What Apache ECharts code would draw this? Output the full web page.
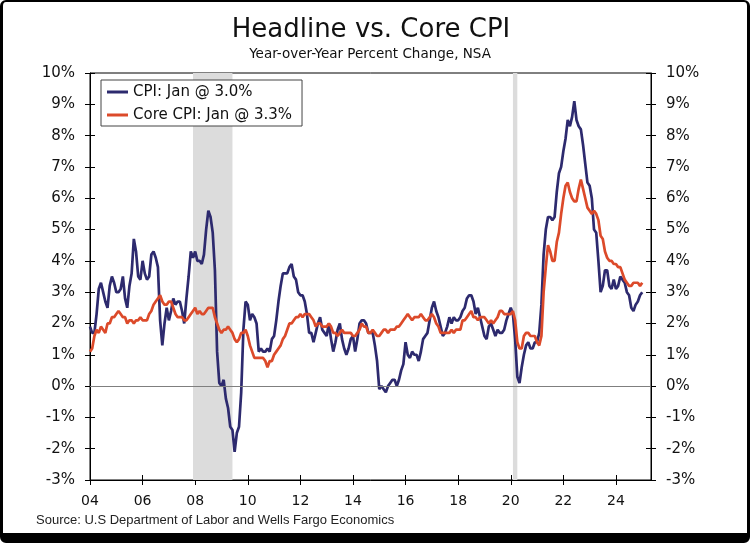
<!DOCTYPE html>
<html>
<head>
<meta charset="utf-8">
<script src="https://cdn.jsdelivr.net/npm/echarts@6/dist/echarts.min.js"></script>
<style>
html,body{margin:0;padding:0;background:#fff;}
#wrap{position:relative;width:751px;height:543px;overflow:hidden;}
#chart{position:absolute;left:0;top:0;width:751px;height:543px;}
#frame{position:absolute;left:0;top:0;width:750px;height:543px;box-sizing:border-box;
  border-top:2px solid #000;border-left:3px solid #000;border-right:3px solid #000;border-bottom:10px solid #000;
  border-radius:6px;pointer-events:none;}
</style>
</head>
<body>
<div id="wrap"><div id="chart"></div><div id="frame"></div></div>
<script>
// Monthly data, Jan 2004 .. Jan 2025 (YoY % change, NSA)
const startYear = 2004;
const cpi = [
  1.9,1.7,1.7,2.3,3.1,3.3,3.0,2.7,2.5,3.2,3.5,3.3,
  3.0,3.0,3.1,3.5,2.8,2.5,3.2,3.6,4.7,4.3,3.5,3.4,
  4.0,3.6,3.4,3.5,4.2,4.3,4.1,3.8,2.1,1.3,2.0,2.5,
  2.1,2.4,2.8,2.6,2.7,2.7,2.4,2.0,2.8,3.5,4.3,4.1,
  4.3,4.0,4.0,3.9,4.2,5.0,5.6,5.4,4.9,3.7,1.1,0.1,
  0.0,0.2,-0.4,-0.7,-1.3,-1.4,-2.1,-1.5,-1.3,-0.2,1.8,2.7,
  2.6,2.1,2.3,2.2,2.0,1.1,1.2,1.1,1.1,1.2,1.1,1.5,
  1.6,2.1,2.7,3.2,3.6,3.6,3.6,3.8,3.9,3.5,3.4,3.0,
  2.9,2.9,2.7,2.3,1.7,1.7,1.4,1.7,2.0,2.2,1.8,1.7,
  1.6,2.0,1.5,1.1,1.4,1.8,2.0,1.5,1.2,1.0,1.2,1.5,
  1.6,1.1,1.5,2.0,2.1,2.1,2.0,1.7,1.7,1.7,1.3,0.8,
  -0.1,0.0,-0.1,-0.2,0.0,0.1,0.2,0.2,0.0,0.2,0.5,0.7,
  1.4,1.0,0.9,1.1,1.0,1.0,0.8,1.1,1.5,1.6,1.7,2.1,
  2.5,2.7,2.4,2.2,1.9,1.6,1.7,1.9,2.2,2.0,2.2,2.1,
  2.1,2.2,2.4,2.5,2.8,2.9,2.9,2.7,2.3,2.5,2.2,1.9,
  1.6,1.5,1.9,2.0,1.8,1.6,1.8,1.7,1.7,1.8,2.1,2.3,
  2.5,2.3,1.5,0.3,0.1,0.6,1.0,1.3,1.4,1.2,1.2,1.4,
  1.4,1.7,2.6,4.2,5.0,5.4,5.4,5.3,5.4,6.2,6.8,7.0,
  7.5,7.9,8.5,8.3,8.6,9.1,8.5,8.3,8.2,7.7,7.1,6.5,
  6.4,6.0,5.0,4.9,4.0,3.0,3.2,3.7,3.7,3.2,3.1,3.4,
  3.1,3.2,3.5,3.4,3.3,3.0,2.9,2.5,2.4,2.6,2.7,2.9,
  3.0
];
const core = [
  1.1,1.2,1.6,1.8,1.7,1.9,1.8,1.7,2.0,2.0,2.2,2.2,
  2.3,2.4,2.3,2.2,2.2,2.0,2.1,2.1,2.0,2.1,2.1,2.2,
  2.1,2.1,2.1,2.3,2.4,2.6,2.7,2.8,2.9,2.7,2.6,2.6,
  2.7,2.7,2.5,2.3,2.2,2.2,2.2,2.1,2.1,2.2,2.3,2.4,
  2.5,2.3,2.4,2.3,2.3,2.4,2.5,2.5,2.5,2.2,2.0,1.8,
  1.7,1.8,1.8,1.9,1.8,1.7,1.5,1.4,1.5,1.7,1.7,1.8,
  1.6,1.3,1.1,0.9,0.9,0.9,0.9,0.9,0.8,0.6,0.8,0.8,
  1.0,1.1,1.2,1.3,1.5,1.6,1.8,2.0,2.0,2.1,2.2,2.2,
  2.3,2.2,2.3,2.3,2.3,2.2,2.1,1.9,2.0,2.0,1.9,1.9,
  1.9,2.0,1.9,1.7,1.7,1.6,1.7,1.8,1.7,1.7,1.7,1.7,
  1.6,1.6,1.7,1.8,2.0,1.9,1.9,1.7,1.7,1.8,1.7,1.6,
  1.6,1.7,1.8,1.8,1.7,1.8,1.8,1.8,1.9,1.9,2.0,2.1,
  2.2,2.3,2.2,2.1,2.2,2.2,2.2,2.3,2.2,2.1,2.1,2.2,
  2.3,2.2,2.0,1.9,1.7,1.7,1.7,1.7,1.7,1.8,1.7,1.8,
  1.8,1.8,2.1,2.1,2.2,2.3,2.4,2.2,2.2,2.1,2.2,2.2,
  2.2,2.1,2.0,2.1,2.0,2.1,2.2,2.4,2.4,2.3,2.3,2.3,
  2.3,2.4,2.1,1.4,1.2,1.2,1.6,1.7,1.7,1.6,1.6,1.6,
  1.4,1.3,1.6,3.0,3.8,4.5,4.3,4.0,4.0,4.6,4.9,5.5,
  6.0,6.4,6.5,6.2,6.0,5.9,5.9,6.3,6.6,6.3,6.0,5.7,
  5.6,5.5,5.6,5.5,5.3,4.8,4.7,4.3,4.1,4.0,4.0,3.9,
  3.9,3.8,3.8,3.6,3.4,3.3,3.2,3.2,3.3,3.3,3.3,3.2,
  3.3
];
const xTickYears = [2004,2006,2008,2010,2012,2014,2016,2018,2020,2022,2024];
const recessions = [[2007 + 11/12, 2009 + 5/12], [2020 + 1/12, 2020 + 3/12]];
const legendNames = ['CPI: Jan @ 3.0%', 'Core CPI: Jan @ 3.3%'];
const titleText = 'Headline vs. Core CPI';
const subtitleText = 'Year-over-Year Percent Change, NSA';
const sourceText = 'Source: U.S Department of Labor and Wells Fargo Economics';

const toPairs = arr => arr.map((v, i) => [startYear + i / 12, v]);

const FONT = 'DejaVu Sans, Verdana, sans-serif';
const chart = echarts.init(document.getElementById('chart'), null, {renderer: 'canvas'});

const yBase = {
  type: 'value', min: -3, max: 10, interval: 1, offset: 0,
  splitLine: {show: false}
};
const xBase = {
  type: 'value', min: 2004, max: 2025 + 4/12, offset: 0,
  splitLine: {show: false}
};

chart.setOption({
  animation: false,
  backgroundColor: '#fff',
  grid: {left: 90, right: 100, top: 73, bottom: 63, show: true, borderColor: '#000', borderWidth: 1, containLabel: false},
  graphic: [
    {type: 'text', x: 371, y: 30, style: {text: titleText, font: '26px ' + FONT, fill: '#111', textAlign: 'center', textVerticalAlign: 'middle', align: 'center', verticalAlign: 'middle'}},
    {type: 'text', x: 370, y: 54, style: {text: subtitleText, font: '13.5px ' + FONT, fill: '#111', textAlign: 'center', textVerticalAlign: 'middle', align: 'center', verticalAlign: 'middle'}},
    {type: 'text', x: 36, y: 520, style: {text: sourceText, font: '13px Liberation Sans, Arial, sans-serif', fill: '#222', textAlign: 'left', textVerticalAlign: 'middle', align: 'left', verticalAlign: 'middle'}}
  ],
  legend: {
    orient: 'vertical', left: 101, top: 80,
    padding: [3, 10, 2, 6], itemWidth: 21, itemHeight: 3, itemGap: 5,
    icon: 'rect',
    backgroundColor: '#fff', borderColor: '#444', borderWidth: 1,
    textStyle: {fontFamily: FONT, fontSize: 15, color: '#111', lineHeight: 18},
    data: legendNames
  },
  xAxis: [
    Object.assign({}, xBase, {
      position: 'bottom',
      axisLine: {show: true, onZero: false, lineStyle: {color: '#000', width: 1}},
      axisTick: {show: true, inside: false, length: 5, lineStyle: {color: '#000'}, customValues: xTickYears},
      axisLabel: {show: true, margin: 14, fontFamily: FONT, fontSize: 14, color: '#111', customValues: xTickYears,
        formatter: v => (xTickYears.indexOf(Math.round(v)) >= 0 && Math.abs(v - Math.round(v)) < 1e-6) ? String(Math.round(v) % 100).padStart(2, '0') : ''}
    }),
    Object.assign({}, xBase, {
      position: 'bottom',
      axisLine: {show: false, onZero: false},
      axisTick: {show: true, inside: true, length: 5, lineStyle: {color: '#000'}, customValues: xTickYears},
      axisLabel: {show: false}
    })
  ],
  yAxis: [
    Object.assign({}, yBase, {
      position: 'left',
      axisLine: {show: true, onZero: false, lineStyle: {color: '#000'}},
      axisTick: {show: true, inside: false, length: 5, lineStyle: {color: '#000'}},
      axisLabel: {show: true, margin: 15, fontFamily: FONT, fontSize: 15, color: '#111', formatter: '{value}%'}
    }),
    Object.assign({}, yBase, {
      position: 'right',
      axisLine: {show: true, onZero: false, lineStyle: {color: '#000'}},
      axisTick: {show: true, inside: false, length: 5, lineStyle: {color: '#000'}},
      axisLabel: {show: true, margin: 15, fontFamily: FONT, fontSize: 15, color: '#111', formatter: '{value}%'}
    }),
    Object.assign({}, yBase, {
      position: 'left',
      axisLine: {show: false, onZero: false},
      axisTick: {show: true, inside: true, length: 5, lineStyle: {color: '#000'}},
      axisLabel: {show: false}
    }),
    Object.assign({}, yBase, {
      position: 'right',
      axisLine: {show: false, onZero: false},
      axisTick: {show: true, inside: true, length: 5, lineStyle: {color: '#000'}},
      axisLabel: {show: false}
    })
  ],
  series: [
    {
      name: legendNames[0], type: 'line', xAxisIndex: 0, yAxisIndex: 0,
      data: toPairs(cpi), symbol: 'none', showSymbol: false,
      lineStyle: {color: '#2D2A6E', width: 2.7}, itemStyle: {color: '#2D2A6E'},
      markArea: {
        silent: true,
        itemStyle: {color: '#DCDCDC'},
        data: recessions.map(r => [{xAxis: r[0]}, {xAxis: r[1]}])
      },
      markLine: {
        silent: true, symbol: ['none', 'none'], label: {show: false},
        lineStyle: {color: '#7f7f7f', width: 1, type: 'solid'},
        data: [{yAxis: 0}]
      }
    },
    {
      name: legendNames[1], type: 'line', xAxisIndex: 0, yAxisIndex: 0,
      data: toPairs(core), symbol: 'none', showSymbol: false,
      lineStyle: {color: '#DC4A2A', width: 2.7}, itemStyle: {color: '#DC4A2A'}
    }
  ]
});
</script>
</body>
</html>
